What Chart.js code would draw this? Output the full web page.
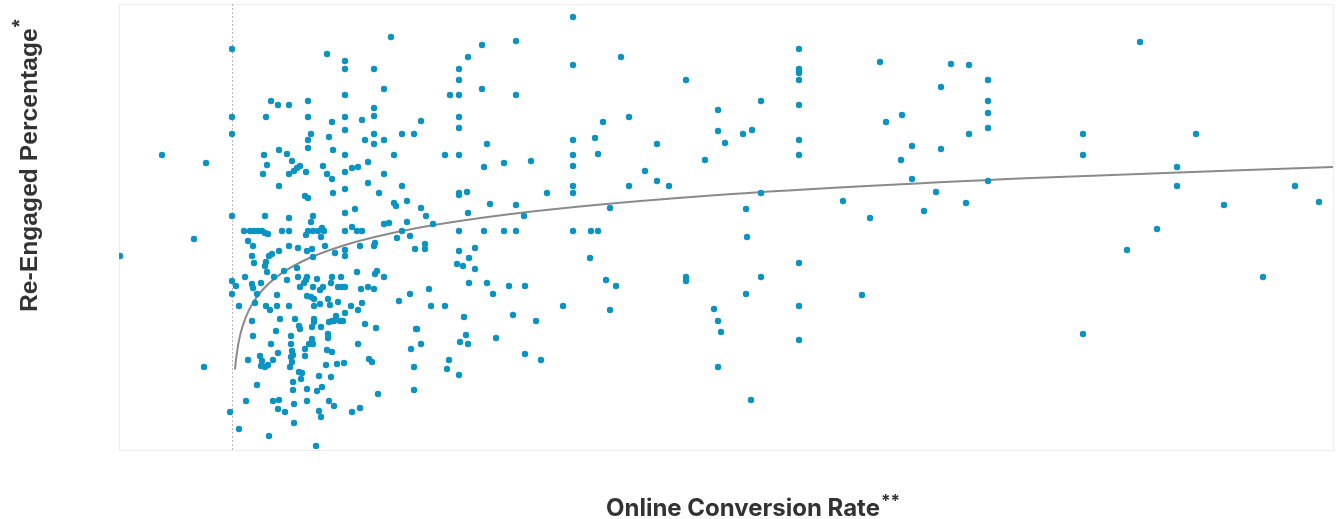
<!DOCTYPE html>
<html lang="en">
<head>
    <meta charset="UTF-8">
    <title>Re-Engaged Percentage vs Online Conversion Rate</title>
    <script src="https://cdn.jsdelivr.net/npm/chart.js"></script>
    <style>
        html, body { margin: 0; padding: 0; background: #fff; }
        .chart-box { width: 1336px; height: 519px; position: relative; }
    </style>
</head>
<body>
<div class="chart-box"><canvas id="scatterChart"></canvas></div>
<script>
// x: online conversion rate, y: re-engaged percentage (one entry per store)
const convRate = [
    11.3, 20.8, 11.3, 11.3, 4.3, 8.7, 11.3, 7.5, 0.1, 11.3,
    11.7, 11.3, 12.0, 8.5, 11.1, 12.0, 15.2, 15.9, 17.0, 18.9,
    14.7, 18.9, 21.3, 19.2, 18.9, 21.0, 18.9, 21.4, 16.0, 16.8,
    14.5, 17.3, 14.8, 18.1, 17.8, 17.5, 18.7, 14.4, 17.0, 20.4,
    20.8, 21.3, 21.4, 16.0, 18.6, 18.9, 14.6, 17.0, 19.4, 19.2,
    12.5, 13.1, 13.5, 13.9, 14.3, 14.6, 14.9, 12.9, 13.4, 16.3,
    17.0, 18.7, 18.9, 19.4, 19.9, 20.3, 20.5, 20.2, 17.0, 17.9,
    20.6, 19.3, 13.3, 15.0, 15.3, 16.0, 13.5, 14.7, 14.6, 14.8,
    18.8, 19.4, 17.8, 16.5, 12.6, 15.5, 17.9, 18.8, 18.7, 18.5,
    19.8, 21.3, 13.3, 13.4, 14.2, 16.8, 18.1, 19.4, 20.1, 20.4,
    21.2, 13.8, 15.8, 19.2, 19.5, 20.9, 13.6, 14.7, 15.1, 15.8,
    17.0, 18.8, 19.5, 20.1, 21.1, 16.1, 13.3, 17.6, 19.5, 19.5,
    21.0, 21.3, 18.0, 18.1, 19.3, 20.2, 15.7, 13.4, 17.2, 20.9,
    20.9, 19.3, 15.2, 17.2, 19.0, 19.4, 18.6, 20.8, 21.3, 17.3,
    17.4, 17.2, 15.9, 18.6, 12.9, 14.1, 14.3, 15.4, 14.9, 14.6,
    14.2, 17.3, 17.1, 20.7, 18.0, 18.3, 18.2, 20.0, 21.2, 13.8,
    17.4, 17.4, 18.8, 19.8, 20.3, 12.7, 15.4, 16.0, 18.8, 17.5,
    21.0, 21.5, 15.9, 16.6, 20.0, 20.2, 17.5, 15.0, 19.7, 27.2,
    22.6, 22.6, 25.5, 26.5, 22.6, 25.5, 25.5, 22.6, 24.3, 30.2,
    22.6, 24.6, 25.5, 25.5, 26.5, 28.3, 29.5, 22.6, 27.5, 24.9,
    23.3, 23.9, 22.6, 26.5, 24.9, 28.3, 22.6, 26.0, 27.5, 27.7,
    28.8, 30.2, 30.7, 23.6, 22.6, 26.5, 27.0, 28.8, 31.4, 23.3,
    23.8, 24.3, 22.6, 28.3, 29.1, 27.8, 24.1, 25.5, 25.6, 29.6,
    30.6, 30.6, 22.6, 22.6, 21.6, 23.8, 25.6, 25.8, 26.5, 22.2,
    21.9, 22.3, 22.6, 24.2, 24.9, 25.5, 31.0, 29.1, 28.0, 31.2,
    21.9, 23.2, 24.3, 23.9, 22.6, 21.7, 21.5, 22.1, 22.4, 24.6,
    25.7, 29.7, 29.8, 23.9, 29.2, 30.2, 25.0, 25.3, 21.8, 22.5,
    29.5, 25.9, 29.5, 23.3, 24.1, 45.4, 39.7, 36.3, 34.9, 50.2,
    34.0, 45.4, 34.0, 56.7, 33.1, 34.0, 36.3, 39.7, 34.0, 34.0,
    51.0, 48.4, 47.6, 45.4, 53.8, 36.8, 32.6, 34.0, 45.4, 47.9,
    36.5, 38.5, 41.2, 45.4, 52.6, 53.8, 55.0, 51.0, 45.4, 45.4,
    42.8, 34.0, 34.0, 34.8, 37.1, 39.7, 49.1, 34.9, 40.5, 34.0,
    36.5, 38.5, 39.7, 45.4, 47.2, 47.9, 35.6, 34.0, 35.0, 47.1,
    33.8, 34.4, 35.6, 56.7, 56.7, 35.0, 36.8, 39.0, 40.6, 37.4,
    48.7, 49.7, 32.6, 44.4, 49.1, 34.5, 39.4, 41.7, 34.7, 34.1,
    34.9, 37.7, 40.6, 42.2, 33.0, 32.8, 34.0, 68.0, 68.0, 68.0,
    68.0, 68.0, 76.1, 83.2, 85.0, 86.9, 82.2, 64.2, 68.0, 86.9,
    86.9, 59.9, 59.9, 60.6, 62.4, 63.3, 76.7, 78.3, 85.0, 86.9,
    68.0, 68.0, 79.3, 82.2, 78.2, 58.6, 79.3, 86.9, 81.7, 84.7,
    80.5, 72.4, 75.1, 64.2, 62.7, 62.8, 68.0, 64.2, 62.7, 74.3,
    68.0, 59.5, 59.9, 60.2, 68.0, 59.9, 63.2, 102.1, 96.4, 107.7,
    96.4, 105.8, 105.8, 117.6, 120.0, 110.5, 103.8, 100.8, 114.4, 96.4
];
const reEngaged = [
    40.2, 39.7, 33.4, 31.7, 29.6, 28.8, 23.5, 21.2, 19.5, 17.0,
    16.5, 15.7, 14.5, 8.4, 3.9, 2.2, 35.0, 34.6, 34.6, 35.0,
    33.4, 33.4, 32.9, 31.7, 31.1, 31.4, 30.3, 30.1, 30.1, 29.7,
    29.6, 29.0, 28.6, 28.5, 28.3, 28.0, 27.9, 27.7, 27.7, 28.5,
    27.7, 27.2, 25.8, 26.5, 25.5, 25.3, 23.5, 23.3, 23.5, 22.9,
    22.0, 22.0, 22.0, 22.0, 22.0, 21.8, 21.7, 21.0, 20.5, 22.0,
    22.0, 21.6, 22.0, 22.0, 22.0, 22.3, 22.0, 21.4, 20.5, 20.3,
    20.5, 20.2, 19.5, 19.5, 19.7, 20.0, 18.8, 18.9, 18.5, 17.9,
    20.0, 19.4, 18.3, 18.0, 17.4, 17.4, 17.4, 17.4, 17.1, 16.8,
    17.2, 17.4, 16.7, 16.3, 16.8, 17.1, 16.4, 16.4, 16.1, 16.4,
    16.8, 15.7, 15.6, 15.4, 15.2, 15.2, 14.8, 14.5, 14.1, 14.5,
    14.5, 15.5, 14.5, 14.7, 14.6, 13.2, 13.0, 13.2, 13.2, 12.9,
    12.9, 13.0, 12.5, 12.2, 12.4, 12.4, 12.0, 11.5, 11.5, 11.7,
    11.3, 11.2, 10.7, 10.7, 10.7, 10.7, 10.2, 10.1, 9.9, 10.0,
    9.6, 9.4, 9.8, 9.5, 9.1, 9.5, 9.0, 9.1, 8.6, 8.4,
    8.5, 8.9, 8.4, 8.6, 7.9, 7.8, 7.2, 7.5, 7.4, 6.6,
    6.9, 6.1, 6.2, 6.0, 6.4, 5.0, 5.0, 5.1, 5.0, 4.7,
    5.0, 4.5, 4.2, 3.9, 4.0, 3.4, 2.8, 1.5, 0.5, 41.4,
    39.0, 38.2, 38.2, 36.2, 35.6, 34.3, 33.5, 33.4, 33.1, 33.0,
    32.1, 31.1, 31.7, 30.7, 31.1, 31.7, 31.7, 29.6, 29.6, 28.9,
    28.3, 28.4, 27.9, 27.7, 26.8, 26.5, 26.2, 25.8, 24.8, 24.5,
    25.0, 24.3, 23.5, 24.2, 23.8, 22.7, 22.8, 22.9, 22.7, 22.4,
    22.0, 22.0, 22.0, 22.0, 21.5, 21.3, 20.5, 20.5, 20.8, 20.2,
    20.7, 20.2, 20.1, 19.5, 19.8, 17.9, 17.7, 18.0, 17.4, 17.4,
    16.4, 16.4, 16.4, 16.2, 16.4, 16.2, 16.2, 15.7, 15.0, 14.5,
    14.9, 14.5, 14.8, 14.1, 13.8, 13.5, 13.0, 13.0, 13.0, 12.7,
    12.3, 12.2, 12.2, 10.7, 10.2, 10.7, 9.2, 8.9, 8.7, 8.8,
    8.4, 5.7, 6.1, 3.9, 4.3, 43.4, 41.0, 40.6, 39.4, 39.4,
    38.2, 38.6, 37.1, 37.1, 35.6, 35.6, 36.2, 35.6, 33.4, 32.3,
    33.4, 32.9, 31.3, 31.1, 30.7, 30.7, 29.6, 29.6, 29.6, 29.7,
    28.4, 28.8, 29.0, 28.5, 28.0, 27.0, 26.5, 26.5, 26.5, 25.8,
    25.8, 25.8, 25.6, 25.9, 24.7, 24.6, 24.3, 23.8, 23.5, 22.0,
    22.0, 22.0, 22.0, 22.0, 22.0, 22.0, 20.3, 20.0, 19.3, 19.3,
    18.7, 18.5, 18.2, 17.4, 17.0, 16.8, 16.8, 16.5, 16.5, 15.7,
    17.1, 16.5, 14.5, 14.5, 14.1, 13.4, 13.6, 13.0, 11.6, 10.9,
    10.7, 11.3, 9.7, 9.1, 9.1, 8.2, 7.6, 40.2, 38.2, 38.0,
    37.8, 37.1, 38.9, 38.7, 38.6, 37.1, 36.4, 35.0, 34.6, 35.0,
    33.8, 34.1, 32.0, 30.8, 31.7, 32.1, 32.9, 33.6, 31.7, 32.3,
    31.1, 29.6, 30.5, 30.2, 29.1, 29.1, 27.2, 27.0, 25.9, 24.8,
    24.0, 25.0, 23.3, 25.8, 24.2, 21.4, 18.8, 17.4, 15.7, 15.6,
    14.5, 14.2, 13.0, 11.9, 11.1, 8.4, 5.1, 40.9, 31.7, 31.7,
    29.6, 28.4, 26.5, 26.5, 24.9, 24.6, 22.2, 20.1, 17.4, 11.7
];

// logarithmic trend line
const trendX = [11.6, 11.7, 11.9, 12.2, 12.7, 13.3, 14.3, 15.8, 18.3, 22.3, 29.3, 41.3, 61.3, 91.3, 121.4];
const trendY = [8.15, 9.13, 10.53, 11.92, 13.43, 14.66, 16.05, 17.44, 18.95, 20.5, 22.19, 23.94, 25.7, 27.31, 28.4];

// dotted reference line
const markerX = 11.3;

const xRange = [0, 121.5];
const yRange = [0, 44.7];

const xTitle = 'Online Conversion Rate';
const xNote = '**';
const yTitle = 'Re-Engaged Percentage';
const yNote = '*';

const points = convRate.map((x, i) => ({ x: x, y: reEngaged[i] }));
const trend = trendX.map((x, i) => ({ x: x, y: trendY[i] }));

function fitFont(ctx, text, family, target) {
    ctx.font = 'bold 20px ' + family;
    return 20 * target / ctx.measureText(text).width;
}

const framePlugin = {
    id: 'frame',
    beforeDatasetsDraw(chart) {
        const ctx = chart.ctx;
        const a = chart.chartArea;
        ctx.save();
        ctx.strokeStyle = '#ececec';
        ctx.lineWidth = 1;
        ctx.strokeRect(a.left + 0.5, a.top + 0.5, a.right - a.left - 1, a.bottom - a.top - 1);

        const mx = Math.round(chart.scales.x.getPixelForValue(markerX)) + 0.5;
        ctx.strokeStyle = '#b5b5b5';
        ctx.setLineDash([2, 2]);
        ctx.beginPath();
        ctx.moveTo(mx, a.top);
        ctx.lineTo(mx, a.bottom);
        ctx.stroke();
        ctx.restore();
    },
    afterDraw(chart) {
        const ctx = chart.ctx;
        ctx.save();
        ctx.fillStyle = '#333';
        ctx.textBaseline = 'alphabetic';
        ctx.textAlign = 'left';

        // x axis title
        const xFam = 'Inter, "Liberation Sans", sans-serif';
        const xs = fitFont(ctx, xTitle, xFam, 274);
        ctx.font = 'bold ' + xs + 'px ' + xFam;
        ctx.fillText(xTitle, 606, 516);
        const xw = ctx.measureText(xTitle).width;
        ctx.font = 'bold 17px ' + xFam;
        ctx.fillText(xNote, 606 + xw + 1, 507);

        // y axis title
        const yFam = '"Liberation Sans", Arial, sans-serif';
        const ys = fitFont(ctx, yTitle, yFam, 284);
        ctx.translate(37, 312);
        ctx.rotate(-Math.PI / 2);
        ctx.font = 'bold ' + ys + 'px ' + yFam;
        ctx.fillText(yTitle, 0, 0);
        const yw = ctx.measureText(yTitle).width;
        ctx.font = 'bold 20px ' + yFam;
        ctx.fillText(yNote, yw + 1, -11);
        ctx.restore();
    }
};

const ctx = document.getElementById('scatterChart').getContext('2d');
const scatterChart = new Chart(ctx, {
    type: 'scatter',
    data: {
        datasets: [
            {
                label: 'Stores',
                data: points,
                backgroundColor: '#0b93c2',
                borderWidth: 0,
                pointRadius: 3.2,
                order: 0
            },
            {
                label: 'Trend',
                data: trend,
                showLine: true,
                borderColor: '#8a8a8a',
                borderWidth: 2,
                pointRadius: 0,
                cubicInterpolationMode: 'monotone',
                order: 1
            }
        ]
    },
    options: {
        responsive: true,
        maintainAspectRatio: false,
        animation: false,
        layout: {
            autoPadding: false,
            padding: { left: 119, top: 4, right: 2, bottom: 68 }
        },
        scales: {
            x: { type: 'linear', min: xRange[0], max: xRange[1], display: false },
            y: { type: 'linear', min: yRange[0], max: yRange[1], display: false }
        },
        plugins: {
            legend: { display: false },
            tooltip: { enabled: false }
        }
    },
    plugins: [framePlugin]
});
</script>
</body>
</html>
